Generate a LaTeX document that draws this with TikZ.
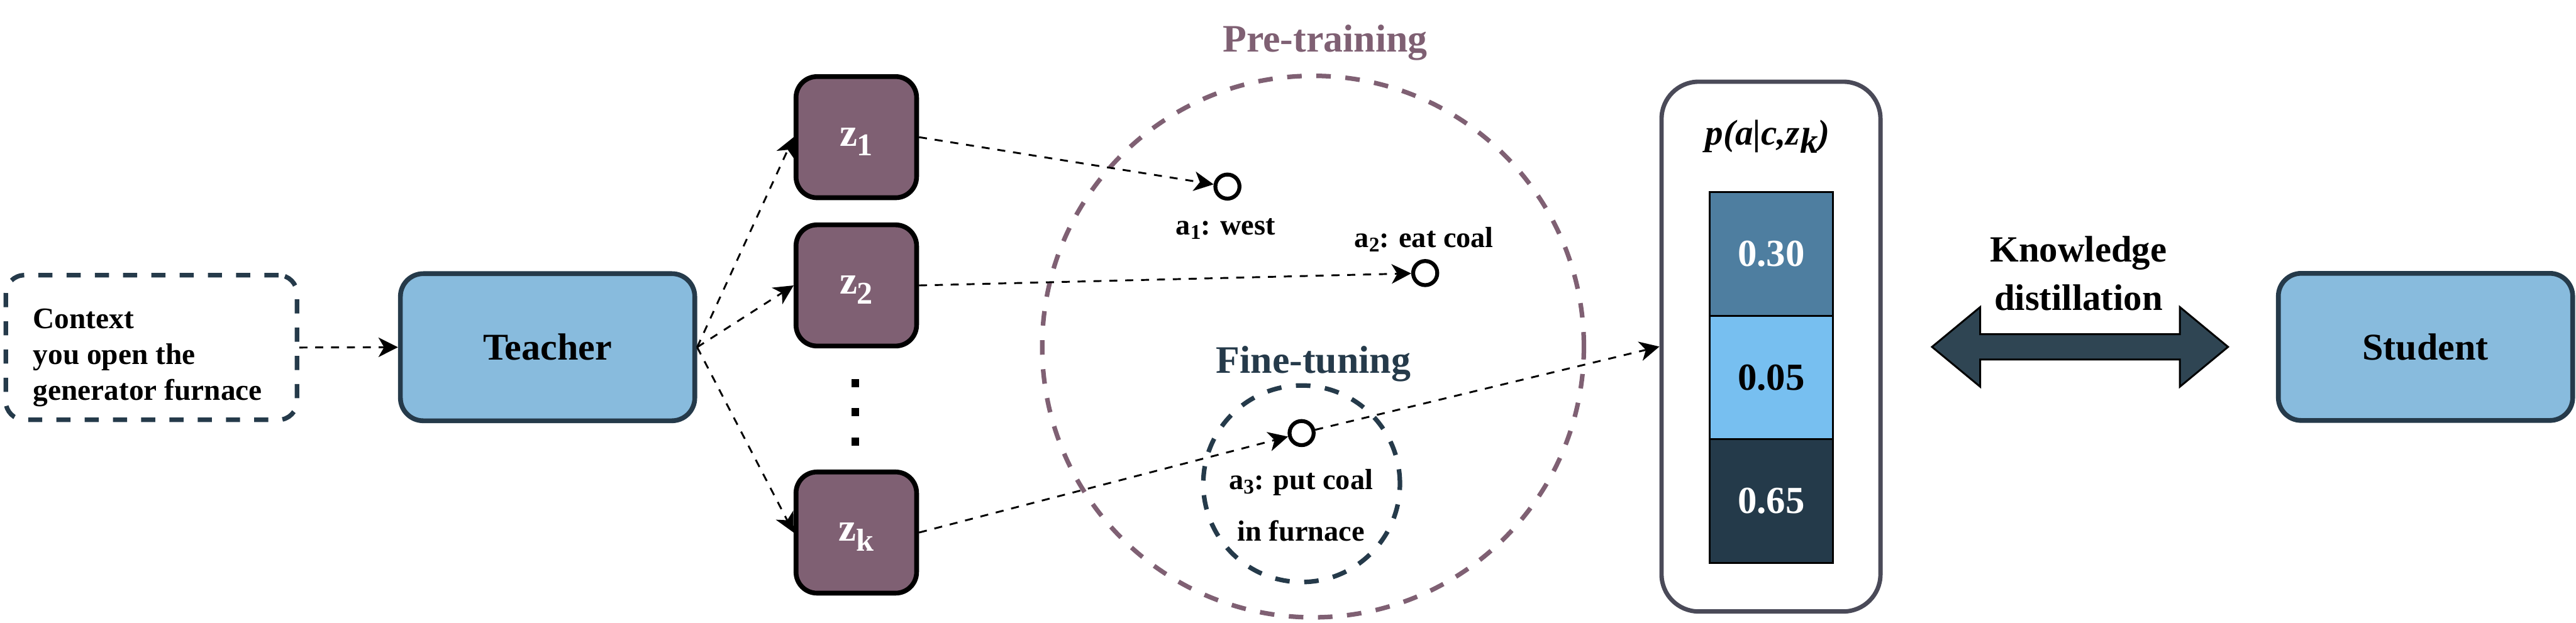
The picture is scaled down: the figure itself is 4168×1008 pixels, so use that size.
\documentclass[tikz,border=0pt]{standalone}
\usepackage{fontspec}
\usepackage{graphicx}
\setmainfont{Liberation Serif}
\usetikzlibrary{arrows.meta}
\definecolor{tfill}{HTML}{88BBDD}
\definecolor{tdraw}{HTML}{253A4A}
\definecolor{zfill}{HTML}{7F6073}
\definecolor{mauve}{HTML}{7F6073}
\definecolor{slate}{HTML}{253A4A}
\definecolor{cellA}{HTML}{4E7EA0}
\definecolor{cellB}{HTML}{77BFF0}
\definecolor{cellC}{HTML}{243A4A}
\definecolor{pbox}{HTML}{4A4A58}
\definecolor{kdfill}{HTML}{2F4553}
\newcommand\lsub[1]{\raisebox{-0.22em}{#1}}
\newcommand\zsub[1]{\raisebox{-0.25em}{\scalebox{0.8}{#1}}}
\newcommand\asub[1]{\raisebox{-0.15em}{\scalebox{0.72}{#1}}}
\tikzset{
  conn/.style={draw=black, line width=0.85pt, dash pattern=on 3.7pt off 3.6pt,
    -{Stealth[length=9pt,width=9pt,inset=2.6pt]}},
  mainbox/.style={rectangle, rounded corners=0.37cm, fill=tfill, draw=tdraw,
    line width=2.2pt, minimum width=4.76cm, minimum height=2.38cm, inner sep=0pt,
    font=\bfseries\fontsize{17.4pt}{20pt}\selectfont},
  ctxbox/.style={rectangle, rounded corners=0.3cm, draw=tdraw, line width=2.1pt,
    dash pattern=on 6.5pt off 6.5pt, minimum width=4.71cm, minimum height=2.34cm},
  ctxtext/.style={inner sep=0pt, align=left, anchor=west,
    font=\bfseries\fontsize{13.7pt}{16.5pt}\selectfont},
  zbox/.style={rectangle, rounded corners=0.34cm, fill=zfill, draw=black,
    line width=2.2pt, minimum width=1.95cm, minimum height=1.96cm, inner sep=0pt,
    text=white, font=\bfseries\fontsize{18.2pt}{20pt}\selectfont,
    text height=8.5pt, text depth=0.5pt},
  dotsq/.style={rectangle, fill=black, minimum size=0.13cm, inner sep=0pt},
  bigring/.style={circle, draw=#1, line width=2.1pt, dash pattern=on 6.7pt off 6.7pt,
    inner sep=0pt},
  act/.style={circle, draw=black, fill=white, line width=1.8pt, minimum size=0.39cm,
    inner sep=0pt},
  actlabel/.style={inner sep=0pt, font=\bfseries\fontsize{13.4pt}{23.9pt}\selectfont},
  phase/.style={inner sep=0pt, anchor=base, font=\bfseries\fontsize{17.9pt}{20pt}\selectfont},
  cell/.style={rectangle, draw=black, line width=0.85pt, minimum width=2.0cm,
    minimum height=2.0cm, inner sep=0pt, outer sep=0pt,
    font=\bfseries\fontsize{17.6pt}{20pt}\selectfont},
}
\begin{document}
\begin{tikzpicture}[x=0.01cm,y=-0.01cm]
\useasboundingbox (0,0) rectangle (4168,1008);

% phase rings
\node[bigring=mauve, minimum size=8.76cm] (pre) at (2124.5,561) {};
\node[bigring=slate, minimum size=3.18cm] (fine) at (2106,783) {};
\node[phase, text=mauve] (pretxt) at (2144,84) {Pre-training};
\node[phase, text=slate] (finetxt) at (2125,604) {Fine-tuning};

% context and teacher
\node[ctxbox] (ctx) at (245,562.5) {};
\node[ctxtext] (ctxt) at (53,579) {Context\\you open the\\generator furnace};
\node[mainbox] (teacher) at (886,562) {Teacher};

% latent boxes
\node[zbox] (z1) at (1385.5,222) {z\zsub{1}};
\node[zbox] (z2) at (1385.5,462) {z\zsub{2}};
\node[zbox] (zk) at (1385.5,862) {z\zsub{k}};
\node[dotsq] (d1) at (1384,620) {};
\node[dotsq] (d2) at (1384,667) {};
\node[dotsq] (d3) at (1384,715) {};

% actions
\node[act] (a1) at (1986,302) {};
\node[act] (a2) at (2306,442) {};
\node[act] (a3) at (2106,701) {};
\node[actlabel, anchor=base] (a1t) at (1983,380) {a\asub{1}: west};
\node[actlabel, anchor=base] (a2t) at (2304,400) {a\asub{2}: eat coal};
\node[actlabel, align=center] (a3t) at (2105,818) {a\asub{3}: put coal\\in furnace};

% probability box
\node[rectangle, rounded corners=0.6cm, draw=pbox, line width=2pt,
      minimum width=3.54cm, minimum height=8.57cm] (prob) at (2865.5,561) {};
\node[inner sep=0pt, anchor=base, font=\bfseries\itshape\fontsize{16.5pt}{20pt}\selectfont]
      (ptitle) at (2860,235) {p(a|c,z\lsub{k})};
\node[cell, fill=cellA, text=white] (c1) at (2866,411) {0.30};
\node[cell, fill=cellB, text=black] (c2) at (2866,611) {0.05};
\node[cell, fill=cellC, text=white] (c3) at (2866,811) {0.65};

% student and distillation arrow
\node[mainbox] (student) at (3924.5,561.5) {Student};
\draw[fill=kdfill, draw=black, line width=0.85pt]
  (3126,561.5) -- (3204,497) -- (3204,541) -- (3527,541) -- (3527,497) -- (3605,561.5)
  -- (3527,626) -- (3527,582) -- (3204,582) -- (3204,626) -- cycle;
\node[inner sep=0pt, align=center, font=\bfseries\fontsize{17pt}{22.2pt}\selectfont]
  (kd) at (3363,442.5) {Knowledge\\distillation};

% connectors
\draw[conn] (ctx.east) -- (teacher.west);
\draw[conn] (teacher.east) -- (z1.west);
\draw[conn] (teacher.east) -- (z2.west);
\draw[conn] (teacher.east) -- (zk.west);
\draw[conn] (z1.east) -- (a1);
\draw[conn] (z2.east) -- (a2);
\draw[conn] (zk.east) -- (a3);
\draw[conn] (a3) -- (prob.west);
\end{tikzpicture}
\end{document}
